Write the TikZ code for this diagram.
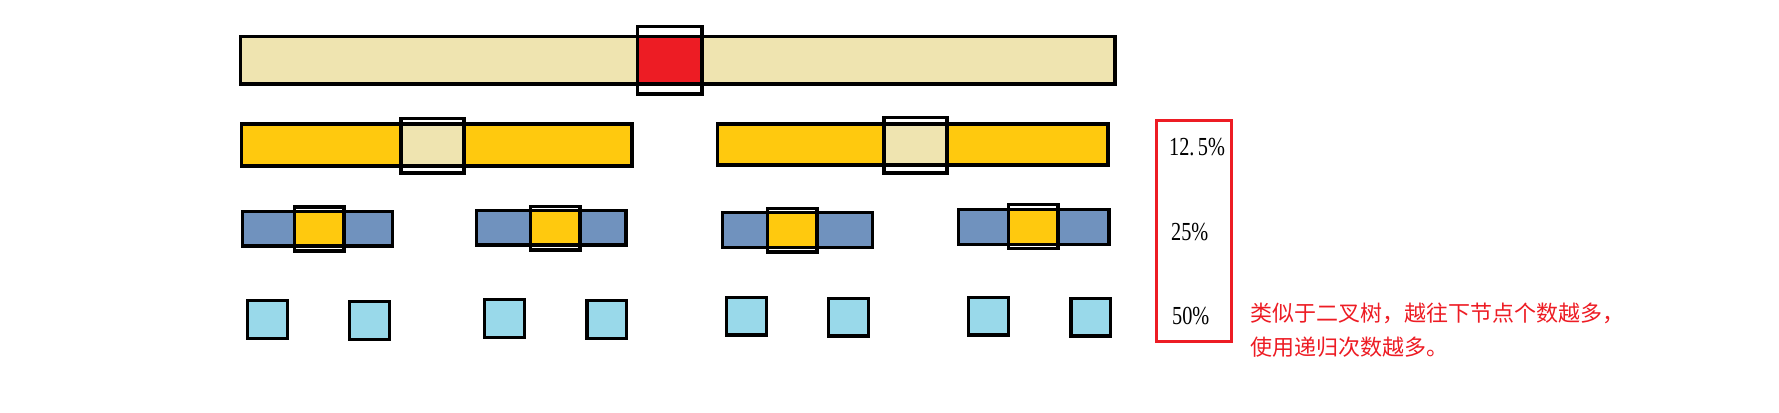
\documentclass[tikz,border=0pt]{standalone}
\usepackage{fontspec}
\setmainfont{Liberation Serif}
\newfontfamily\cjk{Noto Sans CJK SC}
\definecolor{tan}{HTML}{EFE4B0}
\definecolor{hired}{HTML}{ED1C24}
\definecolor{gold}{HTML}{FFC90E}
\definecolor{steel}{HTML}{7092BE}
\definecolor{turq}{HTML}{99D9EA}
\tikzset{
  edge/.style={draw=black, line width=3.1pt},
  frame/.style={draw=hired, line width=3pt},
  pct/.style={anchor=west, inner sep=0pt, font=\fontsize{26}{26}\selectfont},
  note/.style={anchor=north west, inner sep=0pt, text=hired, align=left,
    font=\cjk\fontsize{22}{34}\selectfont}
}
\begin{document}
\begin{tikzpicture}[x=1pt,y=-1pt]
\useasboundingbox (0,0) rectangle (1779,412);

% ---- row 1
\fill[tan] (240.5,36.5) rectangle (1115,84);
\fill[hired] (638,36.5) rectangle (702,84);
\draw[edge] (240.5,36.5) rectangle (1115,84);
\draw[edge] (637.5,26.5) rectangle (702,94);

% ---- row 2
\fill[gold] (241.5,124) rectangle (632,166);
\fill[tan] (401,124) rectangle (464,166);
\draw[edge] (241.5,124) rectangle (632,166);
\draw[edge] (401,118.5) rectangle (464,173);

\fill[gold] (717.5,124) rectangle (1108,165);
\fill[tan] (884,124) rectangle (947,165);
\draw[edge] (717.5,124) rectangle (1108,165);
\draw[edge] (884,117.5) rectangle (947,173);

% ---- row 3
\foreach \xa/\ya/\xb/\yb/\sa/\ta/\sb/\tb in {
  242.5/211.5/392.5/246/294.5/207/344/251,
  476.5/210.5/626/245/530.5/206.5/580/250,
  722.5/212.5/872.5/247.5/767.5/208.5/817/252,
  958.5/209.5/1109/244.5/1008.5/204.5/1058/248.5}{
  \fill[steel] (\xa,\ya) rectangle (\xb,\yb);
  \fill[gold] (\sa,\ya) rectangle (\sb,\yb);
  \draw[edge] (\xa,\ya) rectangle (\xb,\yb);
  \draw[edge] (\sa,\ta) rectangle (\sb,\tb);
}

% ---- row 4
\foreach \xa/\ya/\xb/\yb in {
  247.5/300.5/287.5/338.5, 349.5/301.5/389.5/339.5, 484.5/299.5/524.5/337.5, 587/300.5/626.5/338.5,
  726.5/297.5/766.5/335, 828.5/298.5/868.5/336, 968.5/297.5/1008.5/335, 1071/298.5/1110.5/336}{
  \draw[edge, fill=turq] (\xa,\ya) rectangle (\xb,\yb);
}

% ---- percentage frame
\draw[frame] (1156.5,120.5) rectangle (1231.5,341.8);
\node[pct] (p1) at (1169,147) {\scalebox{0.78}[1]{12.\,5\%}};
\node[pct] (p2) at (1171,232) {\scalebox{0.78}[1]{25\%}};
\node[pct] (p3) at (1172,316) {\scalebox{0.78}[1]{50\%}};

% ---- note
\node[note] (txt) at (1250,303) {类似于二叉树，越往下节点个数越多，\\使用递归次数越多。};
\end{tikzpicture}
\end{document}
